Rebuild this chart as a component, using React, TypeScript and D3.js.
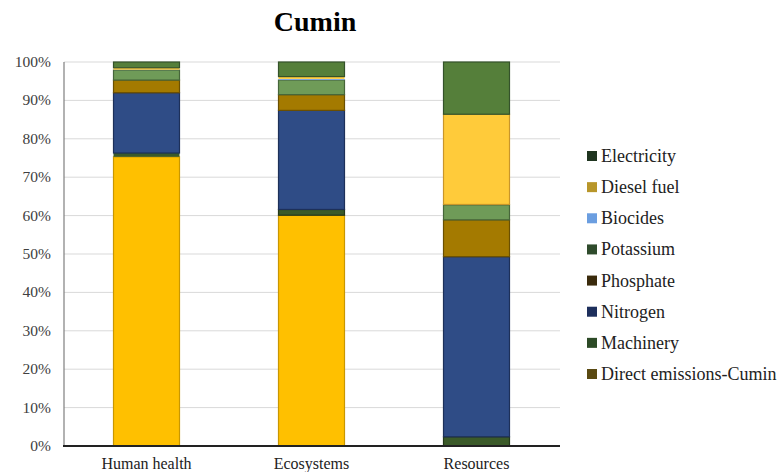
import React from 'react';
import * as d3 from 'd3';

const categories = ['Human health', 'Ecosystems', 'Resources'];

// stack order, bottom to top
const seriesNames = [
    'Direct emissions-Cumin',
    'Machinery',
    'Nitrogen',
    'Phosphate',
    'Potassium',
    'Biocides',
    'Diesel fuel',
    'Electricity',
];

// shares in % per category (Human health, Ecosystems, Resources)
const directEmissions = [75.3, 60.1, 0];
const machinery = [1.0, 1.5, 2.4];
const nitrogen = [15.7, 25.8, 46.9];
const phosphate = [3.3, 4.1, 9.6];
const potassium = [2.6, 3.8, 3.9];
const biocides = [0.1, 0.3, 0.1];
const dieselFuel = [0.5, 0.6, 23.5];
const electricity = [1.5, 3.8, 13.6];

const yTicks = [0, 10, 20, 30, 40, 50, 60, 70, 80, 90, 100];

const fills: Record<string, string> = {
    'Direct emissions-Cumin': '#FFC000',
    'Machinery': '#3B5A29',
    'Nitrogen': '#2F4C86',
    'Phosphate': '#A47A00',
    'Potassium': '#6F9B58',
    'Biocides': '#7EA6E0',
    'Diesel fuel': '#FFCB3A',
    'Electricity': '#557F3A',
};
const edges: Record<string, string> = {
    'Direct emissions-Cumin': '#C99700',
    'Machinery': '#24381a',
    'Nitrogen': '#1d3059',
    'Phosphate': '#6b4f00',
    'Potassium': '#46663a',
    'Biocides': '#5a86c0',
    'Diesel fuel': '#c9962a',
    'Electricity': '#34522a',
};
const swatches: Record<string, string> = {
    'Direct emissions-Cumin': '#5a4a12',
    'Machinery': '#2c4a26',
    'Nitrogen': '#1d2f5c',
    'Phosphate': '#3a2a0c',
    'Potassium': '#2f4b2c',
    'Biocides': '#6b9ee0',
    'Diesel fuel': '#b8962a',
    'Electricity': '#1f3520',
};

const W = 783;
const H = 472;
const serif = { fontFamily: '"Liberation Serif", "Times New Roman", serif' };

export default function App() {
    const values = [directEmissions, machinery, nitrogen, phosphate, potassium, biocides, dieselFuel, electricity];
    const table = categories.map((c, i) => {
        const row: any = { category: c };
        seriesNames.forEach((s, j) => { row[s] = values[j][i]; });
        return row;
    });
    const stacked = d3.stack<any>().keys(seriesNames)(table);

    const x = d3.scaleBand<string>().domain(categories).range([64, 559]).paddingInner(0.6).paddingOuter(0.3);
    const y = d3.scaleLinear().domain([0, 100]).range([446, 62]);
    const legendY = d3.scalePoint<string>().domain(seriesNames.slice().reverse()).range([156, 374]);

    return (
        <svg width={W} height={H} style={{ position: 'absolute', left: 0, top: 0, background: '#fff', ...serif }}>
            <text x={315} y={31} textAnchor="middle" style={serif} fontWeight="bold" fontSize={28}>Cumin</text>

            {/* gridlines */}
            {yTicks.map((t) => (
                <line key={t} x1={64} x2={560} y1={y(t)} y2={y(t)} stroke="#d9d9d9" strokeWidth={1} />
            ))}
            {yTicks.map((t) => (
                <text key={'l' + t} x={51} y={y(t) + 5} textAnchor="end" style={serif} fontSize={15.5} fill="#404040">{t}%</text>
            ))}

            {/* bars */}
            {stacked.map((layer) => (
                <g key={layer.key}>
                    {layer.map((d, i) => {
                        const top = y(d[1]);
                        const h = y(d[0]) - y(d[1]);
                        if (h <= 0) return null;
                        const thick = h > 4;
                        return (
                            <rect key={i} x={x(categories[i])!} y={top} width={x.bandwidth()} height={h}
                                fill={fills[layer.key]}
                                stroke={thick ? edges[layer.key] : 'none'} strokeWidth={1.2} />
                        );
                    })}
                </g>
            ))}

            {/* axes */}
            <line x1={64} x2={64} y1={62} y2={446} stroke="#7f7f7f" strokeWidth={1.2} />
            <line x1={63} x2={560} y1={446} y2={446} stroke="#222" strokeWidth={2} />
            {categories.map((c) => (
                <text key={c} x={x(c)! + x.bandwidth() / 2} y={469} textAnchor="middle" style={serif} fontSize={16} fill="#222">{c}</text>
            ))}

            {/* legend */}
            {seriesNames.slice().reverse().map((s) => (
                <g key={s} transform={`translate(587,${legendY(s)})`}>
                    <rect x={0} y={-5} width={10} height={10} fill={swatches[s]} />
                    <text x={14} y={6} style={serif} fontSize={18} fill="#222">{s}</text>
                </g>
            ))}
        </svg>
    );
}
